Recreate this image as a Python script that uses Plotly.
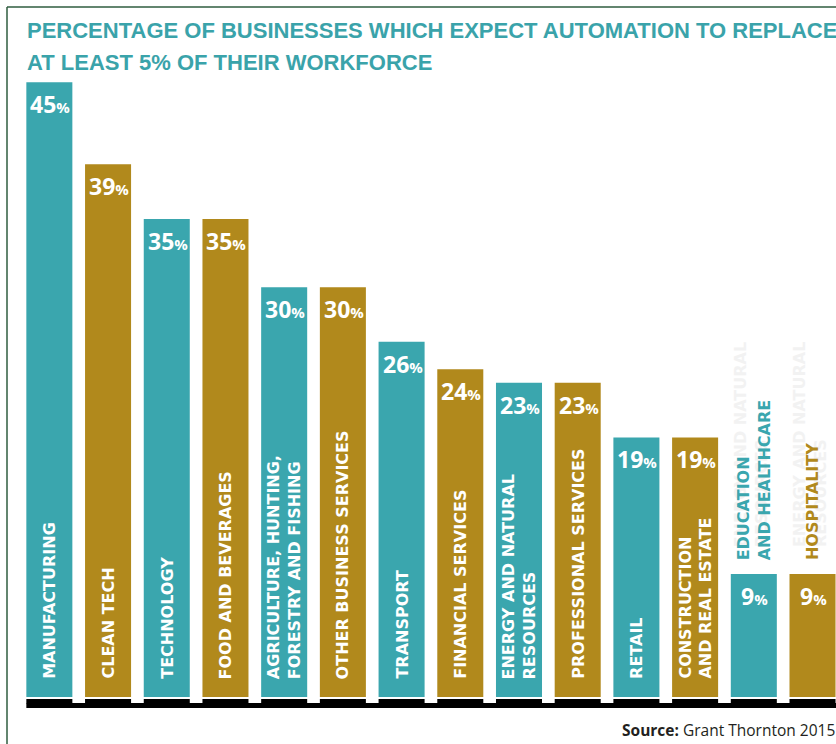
import plotly.graph_objects as go

# Survey results by sector
sectors = [
    "MANUFACTURING", "CLEAN TECH", "TECHNOLOGY", "FOOD AND BEVERAGES",
    "AGRICULTURE, HUNTING,<br>FORESTRY AND FISHING", "OTHER BUSINESS SERVICES",
    "TRANSPORT", "FINANCIAL SERVICES", "ENERGY AND NATURAL<br>RESOURCES",
    "PROFESSIONAL SERVICES", "RETAIL", "CONSTRUCTION<br>AND REAL ESTATE",
    "EDUCATION<br>AND HEALTHCARE", "HOSPITALITY",
]
share_pct = [45, 39, 35, 35, 30, 30, 26, 24, 23, 23, 19, 19, 9, 9]
# sectors whose bar is too short for an inside label
outside_label = [False] * 12 + [True, True]

TEAL = "#3aa6ae"
GOLD = "#b1891c"
TITLE = "#3aa3aa"
FRAME = "#2f5d3f"
colors = [TEAL if i % 2 == 0 else GOLD for i in range(len(sectors))]

W, H = 836, 744
ML, MR, MT, MB = 20, 0, 80, 47
X0, X1 = -0.5, len(sectors) - 0.6
Y_MAX = 45.17
BAR_W = 0.784

plot_w = W - ML - MR
plot_h = H - MT - MB


def px_x(p):
    return (p - ML) / plot_w


def px_y(p):
    return (H - MB - p) / plot_h


def data_x_to_paper(x):
    return (x - X0) / (X1 - X0)


xs = list(range(len(sectors)))

fig = go.Figure(
    go.Bar(
        x=xs,
        y=share_pct,
        width=BAR_W,
        marker=dict(color=colors, line=dict(width=0)),
        hoverinfo="skip",
    )
)

shapes = []
# black base strip
shapes.append(dict(
    type="rect", xref="paper", yref="paper",
    x0=data_x_to_paper(-BAR_W / 2), x1=1.0,
    y0=px_y(708), y1=px_y(703),
    fillcolor="#000000", line=dict(width=0), layer="above",
))
for i in xs:
    shapes.append(dict(
        type="rect", xref="paper", yref="paper",
        x0=data_x_to_paper(i - BAR_W / 2), x1=data_x_to_paper(i + BAR_W / 2),
        y0=px_y(703.5), y1=px_y(699),
        fillcolor="#000000", line=dict(width=0), layer="above",
    ))
# frame
shapes.append(dict(type="line", xref="paper", yref="paper",
                   x0=px_x(7), x1=px_x(7), y0=px_y(7), y1=px_y(H + 5),
                   line=dict(color=FRAME, width=1.5)))
shapes.append(dict(type="line", xref="paper", yref="paper",
                   x0=px_x(7), x1=px_x(W + 5), y0=px_y(7), y1=px_y(7),
                   line=dict(color=FRAME, width=1.5)))

annotations = []

# faint show-through lettering above the last two bars
for i in (12, 13):
    annotations.append(dict(
        x=i, y=share_pct[i], xref="x", yref="y",
        text="ENERGY AND NATURAL<br>RESOURCES", textangle=-90,
        xanchor="center", yanchor="bottom", yshift=25, xshift=-3,
        align="left", showarrow=False,
        font=dict(family="DejaVu Sans", size=16, color="#f2f2f2", weight="bold"),
    ))

for i, (name, v, c, out) in enumerate(zip(sectors, share_pct, colors, outside_label)):
    # value label at top of bar
    annotations.append(dict(
        x=i, y=v, xref="x", yref="y",
        text=f"<b>{v}</b><span style='font-size:15px'><b>%</b></span>",
        xanchor="center", yanchor="top", yshift=-4, xshift=1,
        showarrow=False,
        font=dict(family="Open Sans", size=23, color="#ffffff"),
    ))
    # sector name, rotated
    if out:
        annotations.append(dict(
            x=i, y=v, xref="x", yref="y",
            text=name, textangle=-90,
            xanchor="center", yanchor="bottom", yshift=12,
            align="left", showarrow=False,
            font=dict(family="DejaVu Sans", size=16, color=c, weight="bold"),
        ))
    else:
        annotations.append(dict(
            x=i, y=0, xref="x", yref="y",
            text=name, textangle=-90,
            xanchor="center", yanchor="bottom", yshift=16,
            align="left", showarrow=False,
            font=dict(family="DejaVu Sans", size=16, color="#ffffff", weight="bold"),
        ))

# title
annotations.append(dict(
    x=px_x(25), y=px_y(16), xref="paper", yref="paper",
    text="<b>PERCENTAGE OF BUSINESSES WHICH EXPECT AUTOMATION TO REPLACE</b>",
    xanchor="left", yanchor="top", showarrow=False,
    font=dict(family="Liberation Sans", size=22, color=TITLE),
))
annotations.append(dict(
    x=px_x(25), y=px_y(48), xref="paper", yref="paper",
    text="<b>AT LEAST 5% OF THEIR WORKFORCE</b>",
    xanchor="left", yanchor="top", showarrow=False,
    font=dict(family="Liberation Sans", size=22, color=TITLE),
))
# source
annotations.append(dict(
    x=px_x(837), y=px_y(730), xref="paper", yref="paper",
    text="<b>Source:</b> Grant Thornton 2015",
    xanchor="right", yanchor="middle", showarrow=False,
    font=dict(family="Open Sans", size=15.5, color="#231f20"),
))

fig.update_layout(
    width=W, height=H,
    margin=dict(l=ML, r=MR, t=MT, b=MB, pad=0),
    paper_bgcolor="#ffffff", plot_bgcolor="#ffffff",
    showlegend=False,
    bargap=0.216,
    xaxis=dict(range=[X0, X1], visible=False, fixedrange=True),
    yaxis=dict(range=[0, Y_MAX], visible=False, fixedrange=True),
    shapes=shapes,
    annotations=annotations,
)

fig.write_html("out.html", config={"displayModeBar": False})
